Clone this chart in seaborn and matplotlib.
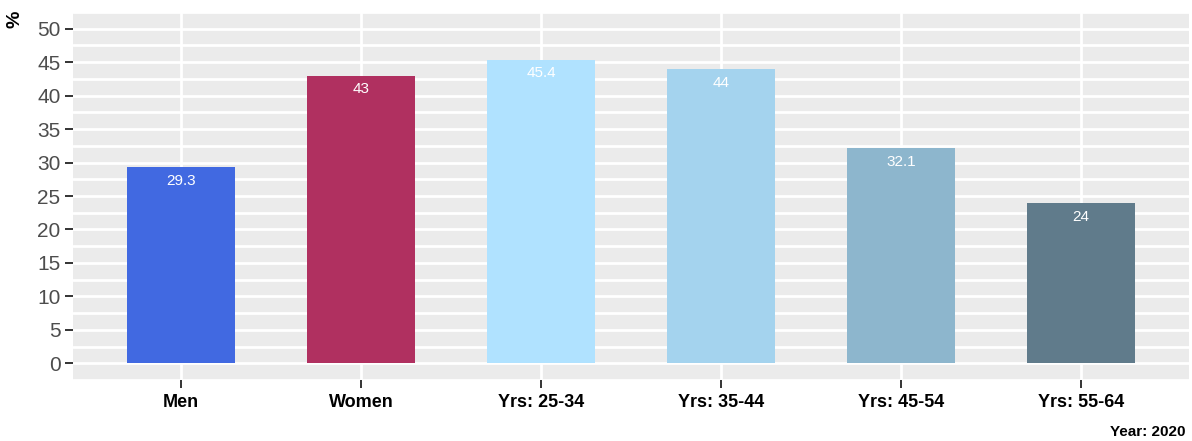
import matplotlib
matplotlib.use("Agg")
import matplotlib.pyplot as plt
import seaborn as sns
import numpy as np
from matplotlib.ticker import MultipleLocator

# Share (%) by group
categories = ["Men", "Women", "Yrs: 25-34", "Yrs: 35-44", "Yrs: 45-54", "Yrs: 55-64"]
values = [29.3, 43, 45.4, 44, 32.1, 24]
bar_colors = ["#4169E1", "#B03060", "#B0E2FF", "#A4D3EE", "#8DB6CD", "#607B8B"]
y_ticks = [0, 5, 10, 15, 20, 25, 30, 35, 40, 45, 50]

sns.set_theme(style="darkgrid")
plt.rcParams["font.family"] = ["Liberation Sans", "DejaVu Sans"]

W, H = 1192, 441
fig = plt.figure(figsize=(W / 100, H / 100), dpi=100)
ax = fig.add_axes([73 / W, (H - 380) / H, (1189 - 73) / W, (380 - 12) / H])
ax.set_facecolor("#EBEBEB")

sns.barplot(x=categories, y=values, hue=categories, palette=bar_colors,
            width=0.6, legend=False, saturation=1, linewidth=0, ax=ax)

for cont, v in zip(ax.containers, values):
    ax.bar_label(cont, labels=[f"{v:g}"], padding=-15, color="white",
                 fontsize=11)

ax.set_xlim(-0.6, len(categories) - 0.4)
ax.set_ylim(-2.5, 52.5)
ax.set_yticks(y_ticks)
ax.yaxis.set_minor_locator(MultipleLocator(2.5))
ax.grid(which="major", color="white", linewidth=2.0)
ax.grid(which="minor", axis="y", color="white", linewidth=2.0)
ax.set_axisbelow(True)
for s in ax.spines.values():
    s.set_visible(False)

ax.tick_params(axis="y", which="major", labelsize=15, labelcolor="#4D4D4D",
               length=6, width=1.4, color="#333333", left=True, pad=3)
ax.tick_params(axis="y", which="minor", length=0)
ax.tick_params(axis="x", labelsize=13, labelcolor="black", length=6,
               width=1.4, color="#333333", bottom=True, pad=4)
for lbl in ax.get_xticklabels():
    lbl.set_fontweight("bold")
ax.set_xlabel("")
ax.set_ylabel("")

fig.text(15 / W, 1 - 19 / H, "%", rotation=90, ha="center", va="center",
         fontsize=14, fontweight="bold", color="black")
fig.text(1186 / W, 1 - 432 / H, "Year: 2020", ha="right", va="center",
         fontsize=11, fontweight="bold", color="black")

fig.savefig("out.png", dpi=100)
